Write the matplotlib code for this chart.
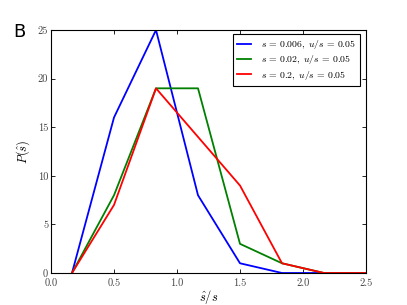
import matplotlib
matplotlib.use('Agg')
import matplotlib.pyplot as plt

plt.rcParams['mathtext.fontset'] = 'cm'
plt.rcParams['font.family'] = 'serif'
plt.rcParams['font.serif'] = ['cmr10', 'DejaVu Serif']
plt.rcParams['axes.formatter.use_mathtext'] = True
plt.rcParams['axes.unicode_minus'] = False

x = [1/6, 3/6, 5/6, 7/6, 9/6, 11/6, 13/6, 15/6]
p_s006 = [0, 16, 25, 8, 1, 0, 0, 0]
p_s02 = [0, 8, 19, 19, 3, 1, 0, 0]
p_s2 = [0, 7, 19, 14, 9, 1, 0, 0]
labels = [r'$s\,=\,0.006,\;u/s\,=\,0.05$',
          r'$s\,=\,0.02,\;u/s\,=\,0.05$',
          r'$s\,=\,0.2,\;u/s\,=\,0.05$']
xticks = [0.0, 0.5, 1.0, 1.5, 2.0, 2.5]
yticks = [0, 5, 10, 15, 20, 25]

fig = plt.figure(figsize=(4.07, 3.05), dpi=100)
ax = fig.add_axes([51/407, 1 - 273/305, 315/407, 243/305])

ax.plot(x, p_s006, color='#0000ff', lw=1.3, label=labels[0])
ax.plot(x, p_s02, color='#008000', lw=1.3, label=labels[1])
ax.plot(x, p_s2, color='#ff0000', lw=1.3, label=labels[2])

ax.set_xlim(0, 2.5)
ax.set_ylim(0, 25)
ax.set_xticks(xticks)
ax.set_yticks(yticks)
ax.set_xticklabels(['%.1f' % t for t in xticks], fontsize=7.5, color='#444444')
ax.set_yticklabels(['%d' % t for t in yticks], fontsize=7.5, color='#444444')
ax.tick_params(direction='in', top=True, right=True, length=3, width=0.6, pad=2)
ax.tick_params(axis='x', pad=4)
for sp in ax.spines.values():
    sp.set_linewidth(0.8)

ax.set_xlabel(r'$\hat{s}/s$', fontsize=9, labelpad=0)
ax.set_ylabel(r'$P(\hat{s})$', fontsize=9, labelpad=4)

leg = ax.legend(loc='upper right', fontsize=7, fancybox=False, framealpha=1,
                borderpad=0.4, handlelength=1.5, handletextpad=1.0,
                labelspacing=0.25, borderaxespad=0.3,
                bbox_to_anchor=(0.99, 0.995))
leg.get_frame().set_edgecolor('black')
leg.get_frame().set_linewidth(0.8)

fig.text(13/407, 1 - 32/305, 'B', fontsize=13, family='DejaVu Sans', va='center')

fig.savefig('out.png', dpi=100)
